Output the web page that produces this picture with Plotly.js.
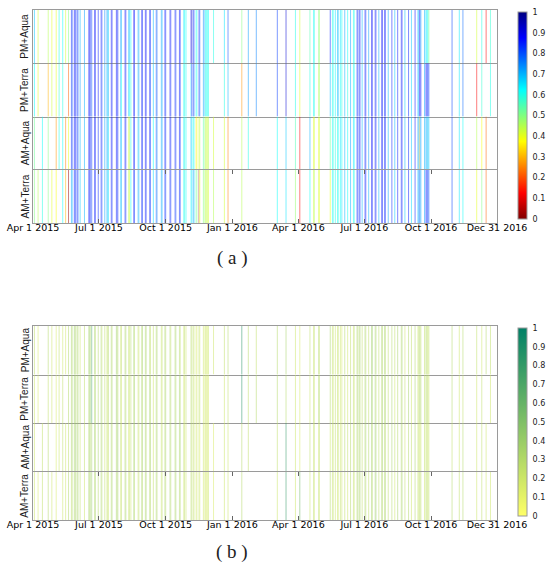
<!DOCTYPE html>
<html><head><meta charset="utf-8">
<script src="https://cdn.plot.ly/plotly-3.0.1.min.js"></script>
<style>html,body{margin:0;padding:0;background:#fff}#chart{width:548px;height:569px}</style>
</head><body><div id="chart"></div>
<script>
// ---------- DATA ----------
const rowLabels = ['PM+Aqua','PM+Terra','AM+Aqua','AM+Terra'];
const tickDates = ['2015-04-01','2015-07-01','2015-10-01','2016-01-01','2016-04-01','2016-07-01','2016-10-01','2016-12-31'];
const tickLabels = ['Apr 1 2015','Jul 1 2015','Oct 1 2015','Jan 1 2016','Apr 1 2016','Jul 1 2016','Oct 1 2016','Dec 31 2016'];
const panelLabels = ['(\u00a0a\u00a0)','(\u00a0b\u00a0)'];
const cbTickVals = [0,0.1,0.2,0.3,0.4,0.5,0.6,0.7,0.8,0.9,1];
const cbTickText = ['0','0.1','0.2','0.3','0.4','0.5','0.6','0.7','0.8','0.9','1'];
// observation days, counted from 2015-04-01
const obsDays = [2,7,13,21,26,32,36,41,45,49,
 53,54,57,58,59,61,62,65,71,77,78,79,81,85,86,90,94,95,99,102,103,104,108,109,115,116,117,121,122,127,128,132,133,135,139,140,145,146,150,151,155,156,161,162,166,170,171,177,178,182,183,189,190,196,197,202,203,208,209,211,218,219,221,222,225,226,229,230,235,236,238,239,240,241,242,
 249,264,269,288,297,308,337,349,362,368,382,387,388,394,395,410,413,414,417,
 420,421,424,426,430,434,438,442,443,447,448,450,451,454,458,459,463,467,468,472,473,477,481,482,485,486,490,495,499,503,508,509,513,518,522,527,531,532,533,534,535,540,542,543,544,545,546,
 578,588,593,612,619,625,631];

// panel (a)
const aPmAqua = [.68,.42,null,.45,.4,.4,.6,.62,.42,.5,
 .85,.82,.88,.86,.84,.85,.8,.7,.72,.87,.88,.85,.82,.88,.86,.85,.87,.84,.75,.72,.7,.68,.88,.86,.87,.88,.84,.72,.7,.88,.86,.7,.68,.62,.88,.86,.72,.7,.87,.85,.88,.86,.87,.84,.7,.8,.78,.72,.7,.87,.85,.88,.86,.86,.84,.87,.85,.65,.62,.62,.9,.92,.85,.83,.62,.6,.85,.82,.75,.72,.62,.6,.63,.6,.62,
 .6,.65,.8,.5,.72,.75,.82,.92,.6,.42,.55,.62,.6,.5,.48,.85,.6,.62,.65,
 .7,.68,.65,.62,.72,.62,.72,.62,.6,.85,.84,.85,.86,.7,.86,.84,.72,.88,.86,.87,.85,.72,.88,.86,.87,.85,.72,.86,.7,.86,.88,.86,.7,.85,.68,.87,.7,.68,.85,.86,.72,.7,.66,.64,.62,.6,.52,
 .82,.65,.78,.42,.6,.12,.58];
const aPmTerra = [.62,.4,null,.3,.42,.4,.58,.6,null,.22,
 .84,.8,.86,.88,.85,.83,.82,.72,.7,.86,.87,.84,.8,.87,.85,.86,.85,.83,.72,.7,.68,.7,.87,.85,.86,.87,.85,.7,.62,.87,.85,.68,.62,.6,.87,.85,.7,.72,.86,.84,.87,.85,.86,.82,.68,.78,.8,.7,.72,.86,.84,.87,.85,.85,.83,.86,.84,.62,.6,.62,.65,.82,.85,.8,.62,.6,.84,.8,.72,.7,.6,.62,.6,.62,.6,
 null,.6,.7,.27,.72,.75,.82,.92,.6,.4,.6,.62,.6,.45,.47,.7,.62,.6,.62,
 .68,.7,.62,.6,.7,.6,.7,.6,.62,.84,.85,.84,.85,.68,.85,.86,.7,.87,.85,.86,.84,.7,.87,.85,.86,.84,.7,.85,.68,.85,.87,.85,.68,.84,.66,.86,.7,.68,.86,.88,.86,.72,.86,.85,.84,.84,.82,
 .82,.65,.78,.12,.58,null,.6];
const aAmAqua = [.52,null,.62,.5,null,.27,.6,.62,.25,.4,
 .84,.82,.87,.85,.86,.84,.8,.7,.7,.86,.88,.85,.83,.87,.85,.84,.86,.84,.72,.7,.7,.66,.87,.85,.86,.87,.84,.7,.68,.87,.85,.42,.45,.6,.87,.85,.7,.68,.86,.84,.86,.85,.86,.83,.62,.8,.76,.7,.72,.86,.84,.87,.85,.85,.83,.86,.84,.64,.6,.62,.7,.65,.6,.62,.35,.38,.4,.45,.55,.5,.45,.42,.44,.42,.45,
 .42,.42,.25,.45,.6,null,.62,.68,.55,.12,.7,.4,.42,.4,.42,.52,.62,.6,.6,
 .6,.62,.65,.62,.7,.62,.72,.65,.62,.84,.85,.84,.86,.7,.86,.84,.72,.87,.86,.86,.85,.72,.87,.85,.86,.84,.7,.85,.7,.85,.87,.85,.7,.84,.68,.86,.72,.7,.3,.7,.72,.7,.72,.7,.68,.7,.68,
 .82,.65,.62,.45,.38,.22,null];
const aAmTerra = [.5,.45,.6,.5,.4,.38,null,.62,.3,.02,
 .72,.7,.86,.85,.84,.85,.82,.68,.7,.86,.87,.84,.82,.86,.85,.84,.86,.83,.72,.7,.68,.66,.86,.84,.85,.86,.84,.68,.7,.86,.84,.45,.42,.62,.86,.84,.72,.7,.85,.83,.86,.84,.85,.83,.66,.78,.76,.72,.7,.85,.83,.86,.84,.84,.82,.85,.83,.62,.6,.62,.62,.65,.72,.7,.55,.5,.02,.4,.5,.48,.44,.42,.45,.43,.42,
 .45,.42,.25,.45,null,null,.62,.65,.48,.12,.62,.42,.45,.42,.4,.4,.6,.62,.6,
 .62,.6,.62,.65,.7,.62,.7,.62,.6,.85,.84,.85,.84,.7,.85,.86,.7,.86,.85,.87,.84,.7,.86,.85,.85,.84,.72,.84,.68,.86,.86,.84,.68,.85,.66,.85,.7,.72,.75,.78,.7,.72,.84,.85,.83,.82,.8,
 .82,.65,.62,.4,.5,.22,null];

// panel (b)
const bPmAqua = [.25,.15,null,.3,.2,.15,.25,.2,.18,.3,
 .35,.3,.4,.35,.3,.35,.3,.2,.25,.35,.4,.3,.7,.35,.3,.3,.35,.25,.25,.2,.25,.3,.35,.3,.35,.4,.3,.2,.25,.3,.35,.25,.2,.3,.35,.3,.25,.2,.3,.35,.3,.35,.3,.25,.25,.3,.35,.2,.25,.35,.3,.3,.25,.3,.35,.3,.25,.2,.25,.2,.3,.25,.3,.2,.2,.15,.25,.2,.2,.15,.2,.15,.2,.15,.2,
 .2,.25,.3,.85,.3,.25,.3,.35,.2,.15,.25,.2,.25,.3,.25,.35,.2,.25,.2,
 .2,.25,.2,.15,.3,.2,.25,.2,.25,.35,.3,.3,.35,.25,.35,.3,.25,.35,.4,.3,.35,.25,.35,.3,.35,.3,.25,.3,.25,.35,.3,.35,.2,.3,.25,.3,.2,.25,.3,.3,.25,.25,.3,.3,.25,.2,.25,
 .3,.2,.3,.25,.2,.3,.25];
const bPmTerra = [.2,.15,null,.25,.2,.15,.2,.25,null,.3,
 .3,.35,.35,.4,.3,.3,.35,.25,.25,.3,.35,.4,.7,.3,.35,.3,.4,.3,.25,.25,.2,.3,.3,.35,.4,.35,.3,.25,.2,.35,.3,.25,.2,.25,.3,.35,.2,.25,.35,.3,.35,.3,.35,.3,.2,.35,.3,.25,.2,.3,.35,.3,.3,.35,.3,.35,.3,.2,.2,.25,.25,.3,.25,.2,.15,.2,.2,.25,.15,.2,.15,.2,.15,.2,.15,
 null,.2,.25,.85,.25,.3,.3,.3,.2,.15,.2,.25,.2,.3,.3,.3,.25,.2,.25,
 .25,.2,.2,.2,.25,.2,.3,.25,.2,.3,.35,.35,.3,.25,.3,.35,.25,.4,.35,.35,.3,.25,.3,.35,.3,.35,.25,.35,.2,.3,.35,.3,.25,.35,.2,.35,.25,.2,.3,.35,.3,.25,.3,.25,.3,.25,.2,
 .3,.2,.25,.2,.25,null,.2];
const bAmAqua = [.2,null,.25,.3,null,.15,.2,.25,.2,.25,
 .3,.35,.3,.35,.4,.3,.35,.2,.25,.3,.35,.3,.35,.4,.3,.35,.3,.35,.2,.25,.2,.25,.35,.3,.3,.35,.4,.25,.2,.35,.3,.2,.15,.25,.3,.35,.25,.2,.3,.35,.35,.3,.3,.35,.2,.3,.35,.2,.25,.3,.35,.35,.3,.3,.35,.3,.35,.25,.2,.2,.3,.25,.2,.25,.15,.2,.2,.15,.2,.15,.15,.2,.15,.2,.15,
 .15,.2,.2,.3,.25,null,.25,.8,.2,.15,.25,.2,.25,.2,.25,.2,.25,.2,.25,
 .2,.25,.2,.2,.3,.25,.3,.2,.25,.35,.3,.3,.35,.25,.3,.35,.3,.35,.3,.4,.35,.25,.3,.35,.3,.3,.25,.35,.25,.3,.35,.3,.2,.3,.25,.35,.2,.25,.15,.25,.2,.25,.2,.25,.2,.25,.2,
 .25,.2,.3,.2,.25,.2,null];
const bAmTerra = [.2,.15,.25,.3,.2,.15,null,.2,.2,.3,
 .25,.3,.35,.3,.35,.3,.35,.25,.2,.35,.3,.35,.4,.3,.35,.3,.35,.3,.25,.2,.25,.2,.3,.35,.35,.3,.35,.2,.25,.3,.35,.2,.25,.2,.35,.3,.2,.25,.35,.3,.3,.35,.3,.3,.25,.35,.3,.2,.25,.35,.3,.35,.3,.3,.35,.3,.3,.2,.25,.2,.25,.3,.2,.25,.15,.2,.2,.2,.15,.2,.15,.2,.15,.15,.2,
 .15,.2,.2,.3,null,null,.2,.8,.2,.55,.2,.25,.2,.25,.2,.3,.2,.25,.2,
 .2,.2,.25,.2,.25,.2,.3,.25,.2,.3,.35,.3,.35,.25,.35,.3,.25,.35,.3,.35,.4,.25,.35,.3,.3,.35,.25,.3,.2,.35,.3,.35,.25,.3,.2,.3,.25,.2,.25,.3,.25,.2,.3,.25,.25,.2,.25,
 .3,.25,.3,.2,.25,.2,.2];

// ---------- CHART ----------
const jet = [[0,'#800000'],[0.125,'#ff0000'],[0.375,'#ffff00'],[0.625,'#00ffff'],[0.875,'#0000ff'],[1,'#000080']];
const summer = [[0,'#ffff66'],[1,'#008066']];
const DAY = 86400000;
const t0 = Date.UTC(2015,3,1);
const toDate = d => new Date(t0 + d*DAY).toISOString().slice(0,10);

const W=548, H=569, X0=33, X1=497;
const py = p => 1 - p/H;
const panels = [
  {top:10, bottom:223, rows:[aPmAqua,aPmTerra,aAmAqua,aAmTerra], cs:jet, cb:[12,219], label:258},
  {top:326, bottom:520, rows:[bPmAqua,bPmTerra,bAmAqua,bAmTerra], cs:summer, cb:[328,516], label:552}
];
const sans = "'Liberation Sans', Arial, sans-serif";
const wide = "'DejaVu Sans', Verdana, sans-serif";
const traces = [];
const layout = {
  width:W, height:H, margin:{l:0,r:0,t:0,b:0},
  paper_bgcolor:'#fff', plot_bgcolor:'#fff', showlegend:false,
  annotations:[]
};
const lineCol = '#9a9a9a';
panels.forEach((P,pi)=>{
  const h = (P.bottom-P.top)/4;
  P.rows.forEach((vals,ri)=>{
    const idx = pi*4+ri+1; const s = idx===1 ? '' : String(idx);
    const xs=[], vs=[];
    obsDays.forEach((d,i)=>{ if(vals[i]!=null){ xs.push(toDate(d)); vs.push(vals[i]); } });
    const last = ri===3;
    traces.push({
      type:'bar', x:xs, y:xs.map(()=>1), width:1.4*DAY,
      xaxis:'x'+s, yaxis:'y'+s, opacity:0.5, hoverinfo:'skip',
      marker:{color:vs, colorscale:P.cs, cmin:0, cmax:1, line:{width:0},
        showscale: ri===0,
        colorbar:{x:518/W, xanchor:'left', y:py((P.cb[0]+P.cb[1])/2), yanchor:'middle',
          len:(P.cb[1]-P.cb[0])/H, lenmode:'fraction', thickness:9, thicknessmode:'pixels',
          xpad:0, ypad:0, outlinewidth:1, outlinecolor:'#9a9a9a',
          tickvals:cbTickVals, ticktext:cbTickText, ticks:'outside', ticklen:4, tickcolor:'#fff',
          tickfont:{family:wide, size:8, color:'#222'}}}
    });
    layout['xaxis'+s] = {
      type:'date', domain:[X0/W, X1/W], range:[toDate(0),'2016-12-31'], anchor:'y'+s,
      showgrid:false, zeroline:false,
      showline: ri!==2, linecolor:lineCol, linewidth:1,
      mirror: last ? 'ticks' : (ri===0), ticks: last ? 'inside' : '', ticklen:4, tickcolor:'#666',
      tickvals:tickDates, ticktext:tickLabels, showticklabels:last, ticklabelstandoff:-4,
      tickfont:{family:wide, size:9.5, color:'#000'}, fixedrange:true
    };
    layout['yaxis'+s] = {
      domain:[py(P.top+(ri+1)*h), py(P.top+ri*h)], range:[0,1], anchor:'x'+s,
      showline:true, mirror:true, linecolor:lineCol, linewidth:1,
      showgrid:false, zeroline:false, showticklabels:false, ticks:'', fixedrange:true
    };
    layout.annotations.push({
      text:rowLabels[ri], xref:'paper', yref:'paper', x:25/W, y:py(P.top+(ri+0.5)*h),
      xanchor:'center', yanchor:'middle', textangle:-90, showarrow:false,
      font:{family:sans, size:10, color:'#1a1a1a'}
    });
  });
  layout.annotations.push({
    text:panelLabels[pi], xref:'paper', yref:'paper', x:232/W, y:py(P.label),
    xanchor:'center', yanchor:'middle', showarrow:false,
    font:{family:"'Liberation Serif', 'Times New Roman', serif", size:19, color:'#222'}
  });
});
Plotly.newPlot('chart', traces, layout, {staticPlot:true, displayModeBar:false});
</script>
</body></html>
